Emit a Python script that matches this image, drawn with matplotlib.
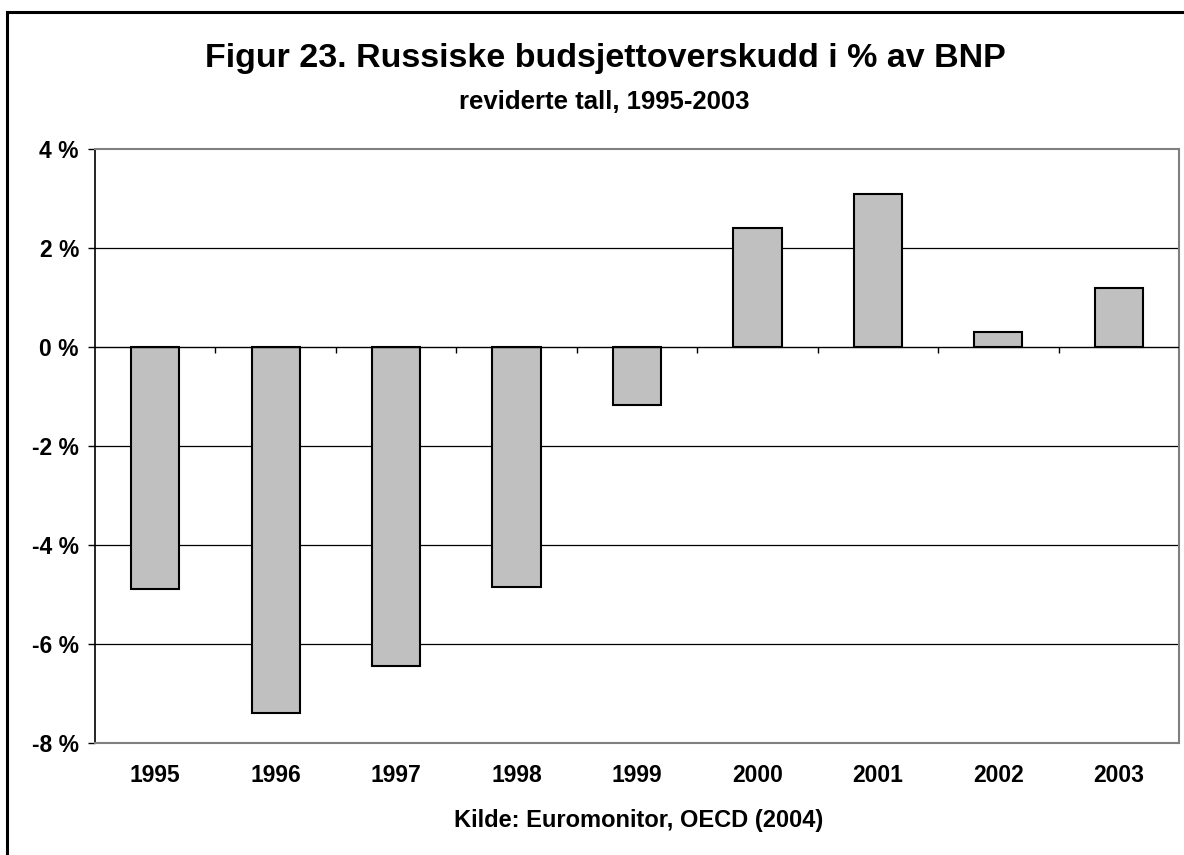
import matplotlib
matplotlib.use("Agg")
import matplotlib.pyplot as plt
from matplotlib.patches import Rectangle

plt.rcParams['font.family'] = ['Liberation Sans', 'DejaVu Sans']
plt.rcParams['font.weight'] = 'bold'

# data
years = ['1995', '1996', '1997', '1998', '1999', '2000', '2001', '2002', '2003']
surplus = [-4.88, -7.4, -6.45, -4.85, -1.18, 2.4, 3.1, 0.3, 1.2]
y_ticks = [-8, -6, -4, -2, 0, 2, 4]
y_labels = ['-8 %', '-6 %', '-4 %', '-2 %', '0 %', '2 %', '4 %']

fig = plt.figure(figsize=(11.84, 8.55), dpi=100)
ax = fig.add_axes([0.0802, 0.131, 0.9156, 0.6947])

x = list(range(len(years)))
ax.bar(x, surplus, width=0.4, color='#c0c0c0', edgecolor='black', linewidth=1.5, zorder=3)

ax.set_xlim(-0.5, len(years) - 0.5)
ax.set_ylim(-8, 4)

# gridlines
for t in y_ticks:
    if t in (-8, 4, 0):
        continue
    ax.axhline(t, color='black', linewidth=0.9, zorder=1)
ax.axhline(0, color='black', linewidth=1.0, zorder=4)
bounds = [i + 0.5 for i in x[:-1]]
ax.vlines(bounds, -0.12, 0, color='black', linewidth=1.0, zorder=4)

ax.set_yticks(y_ticks)
ax.set_yticklabels(y_labels, fontsize=16.5, fontweight='bold')
ax.set_xticks(x)
ax.set_xticklabels(years, fontsize=16.5, fontweight='bold')
ax.tick_params(axis='x', length=0, pad=15)
ax.tick_params(axis='y', length=5, width=1, direction='out', pad=6.5)

for side in ('top', 'right', 'bottom'):
    ax.spines[side].set_color('#808080')
    ax.spines[side].set_linewidth(1.5)
ax.spines['left'].set_color('black')
ax.spines['left'].set_linewidth(1.2)

fig.text(0.511, 0.9216, 'Figur 23. Russiske budsjettoverskudd i % av BNP',
         ha='center', va='baseline', fontsize=24.5, fontweight='bold')
fig.text(0.510, 0.8725, 'reviderte tall, 1995-2003',
         ha='center', va='baseline', fontsize=18.5, fontweight='bold')
fig.text(0.539, 0.0331, 'Kilde: Euromonitor, OECD (2004)',
         ha='center', va='baseline', fontsize=17, fontweight='bold')

# outer chart frame (cut off on right and bottom)
fig.patches.append(Rectangle((7 / 1184, -0.1), 1.2, 0.1 + 1 - 12.5 / 855,
                             transform=fig.transFigure, fill=False,
                             edgecolor='black', linewidth=2.2))

fig.savefig('out.png', dpi=100)
